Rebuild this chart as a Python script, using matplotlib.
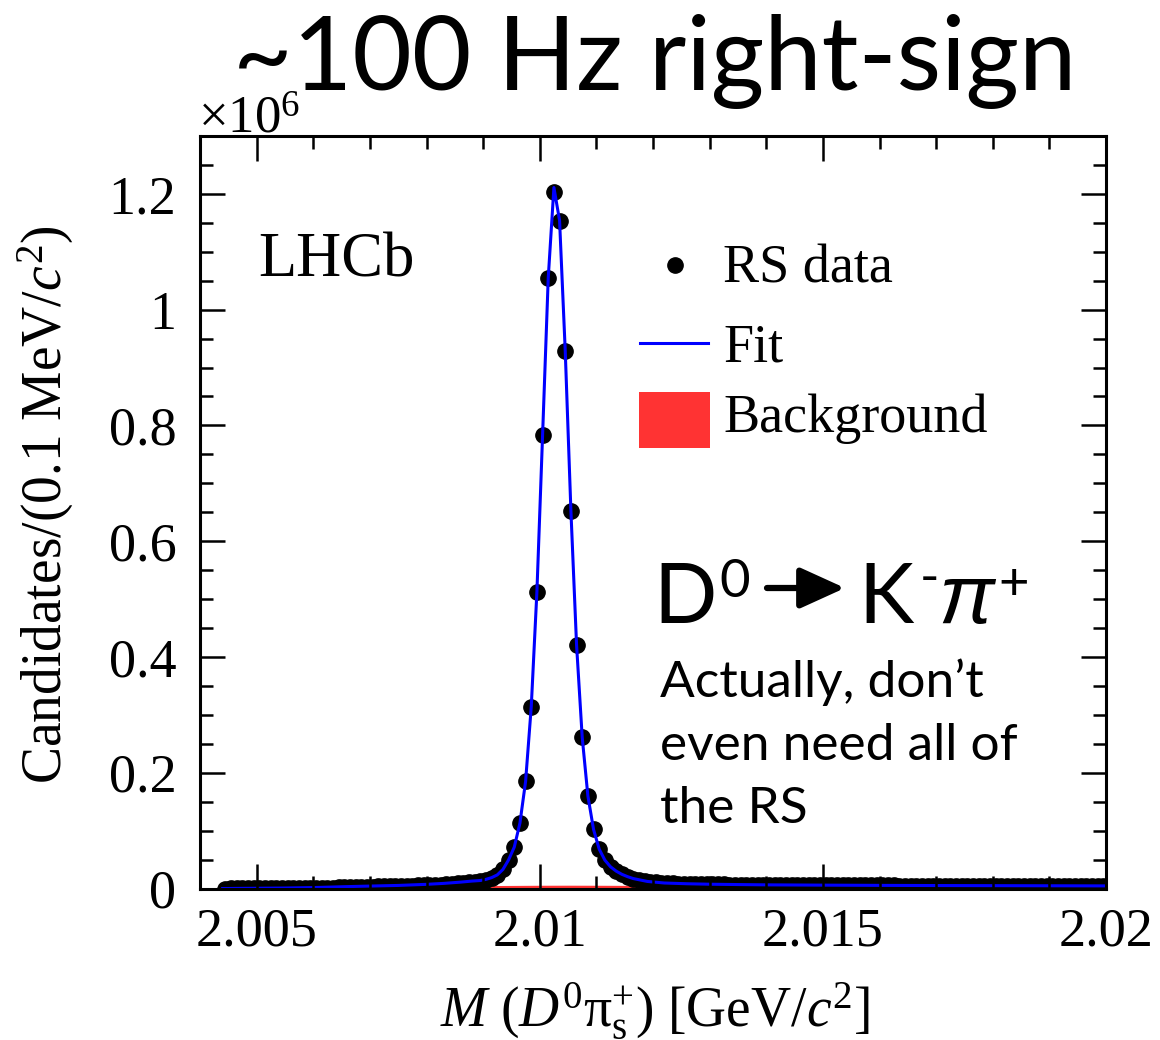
import numpy as np
import matplotlib
matplotlib.use("Agg")
import matplotlib.pyplot as plt
from matplotlib.ticker import MultipleLocator, FixedLocator, FixedFormatter
from matplotlib.patches import Rectangle, FancyArrowPatch
from matplotlib.lines import Line2D

plt.rcParams['font.family'] = ['Liberation Serif', 'DejaVu Serif']
plt.rcParams['mathtext.fontset'] = 'custom'
plt.rcParams['mathtext.rm'] = 'Liberation Serif'
plt.rcParams['mathtext.it'] = 'Liberation Serif:italic'
plt.rcParams['mathtext.bf'] = 'Liberation Serif:bold'

# ---------------- data (counts in units of 10^6 per 0.1 MeV bin) ----------------
bin_first_center = 2.00445   # GeV/c^2
bin_width = 0.0001           # GeV/c^2
rs_counts = [
    # left tail (near threshold)
    0.0000, 0.0001, 0.0001, 0.0002, 0.0002, 0.0003, 0.0004, 0.0004, 0.0005, 0.0005,
    0.0006, 0.0006, 0.0007, 0.0008, 0.0008, 0.0009, 0.0011, 0.0013, 0.0015, 0.0016,
    0.0018, 0.0020, 0.0023, 0.0025, 0.0028, 0.0030, 0.0032, 0.0035, 0.0037, 0.0040,
    0.0042, 0.0044, 0.0047, 0.0050, 0.0052, 0.0055, 0.0059, 0.0063, 0.0068, 0.0074,
    0.0080, 0.0088, 0.0097, 0.0108, 0.0120, 0.0135, 0.0155, 0.0185, 0.0230, 0.0340,
    # peak
    0.0490, 0.0710, 0.1130, 0.1850, 0.3140, 0.5130, 0.7830, 1.0550, 1.2040, 1.1540,
    0.9290, 0.6530, 0.4210, 0.2610, 0.1600, 0.1020, 0.0680, 0.0490, 0.0380, 0.0300,
    # right tail
    0.0245, 0.0205, 0.0172, 0.0148, 0.0130, 0.0116, 0.0105, 0.0097, 0.0091, 0.0087,
    0.0083, 0.0080, 0.0078, 0.0076, 0.0075, 0.0073, 0.0072, 0.0071, 0.0070, 0.0069,
    0.0068, 0.0067, 0.0066, 0.0065, 0.0064, 0.0063, 0.0062, 0.0061, 0.0060, 0.0060,
    0.0059, 0.0058, 0.0058, 0.0057, 0.0057, 0.0056, 0.0056, 0.0055, 0.0055, 0.0055,
    0.0054, 0.0054, 0.0054, 0.0053, 0.0053, 0.0053, 0.0052, 0.0052, 0.0052, 0.0051,
    0.0051, 0.0051, 0.0051, 0.0050, 0.0050, 0.0050, 0.0050, 0.0049, 0.0049, 0.0049,
    0.0049, 0.0049, 0.0048, 0.0048, 0.0048, 0.0048, 0.0048, 0.0047, 0.0047, 0.0047,
    0.0047, 0.0047, 0.0047, 0.0046, 0.0046, 0.0046, 0.0046, 0.0046, 0.0046, 0.0045,
    0.0045, 0.0045, 0.0045, 0.0045, 0.0045, 0.0045,
]
rs_mass = np.round(bin_first_center + bin_width * np.arange(len(rs_counts)), 5)

fit_mass = [2.00440, 2.00450, 2.00470, 2.00500, 2.00550, 2.00600, 2.00650, 2.00700,
            2.00750, 2.00800, 2.00830, 2.00860, 2.00880,
            2.00895, 2.00905, 2.00915, 2.00925, 2.00935, 2.00945, 2.00955, 2.00965,
            2.00975, 2.00985, 2.00995, 2.01005, 2.01015, 2.01025, 2.01035, 2.01045,
            2.01055, 2.01065, 2.01075, 2.01085, 2.01095, 2.01105, 2.01115, 2.01125,
            2.01135, 2.01145, 2.01155, 2.01165,
            2.01190, 2.01220, 2.01260, 2.01300, 2.01350, 2.01400, 2.01500, 2.01600,
            2.01700, 2.01800, 2.01900, 2.02000]
fit_vals = [0.0000, 0.0000, 0.0002, 0.0004, 0.0008, 0.0016, 0.0030, 0.0042,
            0.0053, 0.0072, 0.0088, 0.0110, 0.0128,
            0.0138, 0.0158, 0.0188, 0.0235, 0.0330, 0.0495, 0.0715, 0.1130,
            0.1850, 0.3140, 0.5130, 0.7830, 1.0550, 1.2110, 1.1540, 0.9290,
            0.6530, 0.4210, 0.2610, 0.1600, 0.1020, 0.0680, 0.0490, 0.0375,
            0.0300, 0.0245, 0.0205, 0.0172,
            0.0122, 0.0095, 0.0082, 0.0074, 0.0068, 0.0063, 0.0058, 0.0054,
            0.0051, 0.0049, 0.0047, 0.0045]

bkg_mass = [2.00440, 2.00500, 2.00600, 2.00700, 2.00800, 2.00900, 2.01000, 2.01050,
            2.01100, 2.01200, 2.01400, 2.01600, 2.01800, 2.02000]
bkg_vals = [0.0000, 0.0005, 0.0012, 0.0025, 0.0038, 0.0050, 0.0056, 0.0057,
            0.0056, 0.0052, 0.0047, 0.0044, 0.0042, 0.0040]

x_ticks = [2.005, 2.010, 2.015, 2.020]
x_tick_labels = ["2.005", "2.01", "2.015", "2.02"]
y_ticks = [0, 0.2, 0.4, 0.6, 0.8, 1.0, 1.2]
y_tick_labels = ["0", "0.2", "0.4", "0.6", "0.8", "1", "1.2"]

# ---------------- figure ----------------
W, H = 1160, 1040
fig = plt.figure(figsize=(W / 100, H / 100), dpi=100)

def fx(x):
    return x / W

def fy(y):
    return 1 - y / H

ax_l, ax_r, ax_t, ax_b = 200, 1106, 136, 888.5
ax = fig.add_axes([fx(ax_l), fy(ax_b), (ax_r - ax_l) / W, (ax_b - ax_t) / H])

ax.fill_between(bkg_mass, 0, bkg_vals, color='#ff3333', lw=0, zorder=2)
ax.plot(rs_mass, rs_counts, 'o', color='black', ms=11, mec='black', zorder=3)
ax.plot(fit_mass, fit_vals, '-', color='#0000ff', lw=2.2, zorder=4)

ax.set_xlim(2.004, 2.020)
ax.set_ylim(0, 1.3)
ax.xaxis.set_major_locator(FixedLocator(x_ticks))
ax.xaxis.set_major_formatter(FixedFormatter(x_tick_labels))
ax.xaxis.set_minor_locator(MultipleLocator(0.001))
ax.yaxis.set_major_locator(FixedLocator(y_ticks))
ax.yaxis.set_major_formatter(FixedFormatter(y_tick_labels))
ax.yaxis.set_minor_locator(MultipleLocator(0.05))

ax.tick_params(which='both', direction='in', top=True, right=True, width=1.8,
               labelsize=39, color='black')
ax.tick_params(which='major', length=18)
ax.tick_params(which='minor', length=9.5)
ax.tick_params(axis='x', which='major', pad=13)
ax.tick_params(axis='y', which='major', pad=17)
for s in ax.spines.values():
    s.set_linewidth(2.2)
    s.set_zorder(6)
ax.xaxis.set_zorder(5)
ax.yaxis.set_zorder(5)

# axis labels
fig.text(fx(46), fy(505), r"Candidates/(0.1 MeV/$c^{2}$)", rotation=90,
         ha='center', va='center', fontsize=40)
fig.text(fx(655), fy(1027), r"$M\,\,(D^{0}\mathrm{\pi}_{\mathrm{s}}^{+})$ [GeV/$c^{2}$]",
         ha='center', va='baseline', fontsize=40)
fig.text(fx(198), fy(133), r"$\times$10$^{6}$", ha='left', va='baseline', fontsize=38)

# LHCb label
fig.text(fx(258), fy(277), "LHCb", ha='left', va='baseline', fontsize=45)

# legend (drawn manually)
fig.add_artist(Line2D([fx(675)], [fy(265)], marker='o', color='black', ms=11,
                      transform=fig.transFigure))
fig.add_artist(Line2D([fx(640), fx(708)], [fy(343), fy(343)], color='#0000ff', lw=2.2,
                      transform=fig.transFigure))
fig.add_artist(Rectangle((fx(639), fy(448)), (710 - 639) / W, (448 - 392) / H,
                         facecolor='#ff3333', edgecolor='none', transform=fig.transFigure))
fig.text(fx(723), fy(283), "RS data", ha='left', va='baseline', fontsize=39)
fig.text(fx(723), fy(361), "Fit", ha='left', va='baseline', fontsize=39)
fig.text(fx(723), fy(432), "Background", ha='left', va='baseline', fontsize=39)

# title and annotations (sans)
sans = ['Lato', 'DejaVu Sans']
fig.text(fx(655), fy(90), "~100 Hz right-sign", ha='center', va='baseline',
         fontsize=74, family=sans)

fig.text(fx(653), fy(623), "D", ha='left', va='baseline', fontsize=60, family=sans)
fig.text(fx(719), fy(597), "0", ha='left', va='baseline', fontsize=38, family=sans)
fig.add_artist(FancyArrowPatch(
    (fx(767), fy(588)), (fx(845), fy(588)), transform=fig.transFigure,
    arrowstyle='-|>,head_length=1.1,head_width=0.5', mutation_scale=25,
    lw=4.5, color='black', shrinkA=0, shrinkB=0))
fig.text(fx(858), fy(623), "K", ha='left', va='baseline', fontsize=60, family=sans)
fig.text(fx(920), fy(594), "-", ha='left', va='baseline', fontsize=38, family=sans)
fig.text(fx(938), fy(623), "π", ha='left', va='baseline', fontsize=60,
         family=['Liberation Sans', 'DejaVu Sans'], style='italic')
fig.text(fx(998), fy(600), "+", ha='left', va='baseline', fontsize=38, family=sans)

for txt, yb in [("Actually, don’t", 697), ("even need all of", 760), ("the RS", 823)]:
    fig.text(fx(660), fy(yb), txt, ha='left', va='baseline', fontsize=37, family=sans)

fig.savefig("out.png", dpi=100)
